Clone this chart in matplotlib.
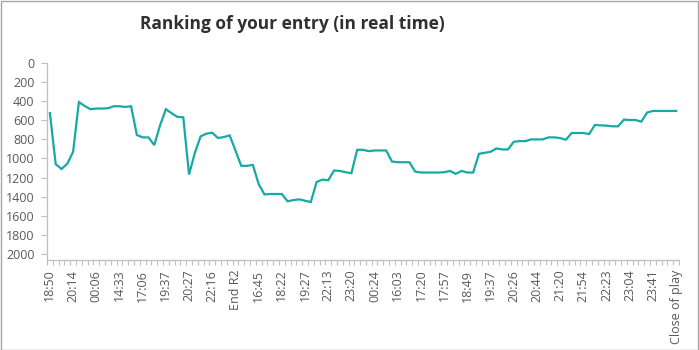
import matplotlib
matplotlib.use("Agg")
import matplotlib.pyplot as plt
from matplotlib.patches import Rectangle

plt.rcParams['font.family'] = ['Open Sans', 'DejaVu Sans']

# rank after each update (lower is better)
ranks = [
    525, 1060, 1110, 1055, 930, 410, 450, 484, 477, 477,
    474, 453, 453, 460, 453, 754, 779, 779, 860, 653,
    484, 526, 565, 568, 1168, 940, 768, 740, 730, 786,
    775, 758, 916, 1077, 1077, 1067, 1267, 1376, 1372, 1372,
    1372, 1449, 1435, 1428, 1442, 1456, 1246, 1221, 1228, 1126,
    1130, 1144, 1154, 909, 909, 923, 916, 916, 916, 1032,
    1039, 1039, 1039, 1137, 1147, 1147, 1147, 1147, 1144, 1130,
    1161, 1130, 1147, 1147, 951, 940, 930, 895, 905, 905,
    825, 818, 818, 800, 800, 800, 779, 779, 786, 803,
    733, 733, 733, 744, 649, 653, 656, 663, 663, 593,
    597, 597, 614, 519, 502, 502, 502, 502, 502,
]

# labels shown on every fourth update
tick_labels = [
    "18:50", "20:14", "00:06", "14:33", "17:06", "19:37", "20:27",
    "22:16", "End R2", "16:45", "18:22", "19:27", "22:13", "23:20",
    "00:24", "16:03", "17:20", "17:57", "18:49", "19:37", "20:26",
    "20:44", "21:20", "21:54", "22:23", "23:04", "23:41", "Close of play",
]
label_step = 4
y_ticks = list(range(0, 2001, 200))

grey = "#595959"
axis_grey = "#BFBFBF"

fig = plt.figure(figsize=(6.99, 3.5), dpi=100)
ax = fig.add_axes([47 / 699, 1 - 260 / 350, (679 - 47) / 699, (260 - 63) / 350])

x = list(range(len(ranks)))
ax.plot(x, ranks, color="#17A9A3", linewidth=1.6, solid_joinstyle="miter")

ax.set_xlim(-0.5, len(ranks) - 0.5)
ax.set_ylim(2063, 0)
ax.set_yticks(y_ticks)
ax.set_yticklabels([str(v) for v in y_ticks])

ax.set_xticks(x[::label_step])
ax.set_xticklabels(tick_labels, rotation=90)
ax.set_xticks([i - 0.5 for i in range(len(ranks) + 1)], minor=True)

ax.tick_params(axis="x", which="major", length=0, pad=7, labelsize=9, labelcolor=grey)
ax.tick_params(axis="x", which="minor", length=3.5, width=0.8, color=axis_grey)
ax.tick_params(axis="y", length=4, width=0.8, color=axis_grey, pad=5,
               labelsize=9, labelcolor=grey)

for side in ("top", "right"):
    ax.spines[side].set_visible(False)
for side in ("left", "bottom"):
    ax.spines[side].set_color(axis_grey)
    ax.spines[side].set_linewidth(0.9)

fig.text(292 / 699, 1 - 24 / 350, "Ranking of your entry (in real time)",
         ha="center", va="center", fontsize=12.5, fontweight="bold", color="#303030")

fig.patches.append(Rectangle((0.5 / 699, 0.5 / 350), 697.5 / 699, 348.5 / 350,
                             transform=fig.transFigure, fill=False,
                             edgecolor="#A6A6A6", linewidth=1.0))

fig.savefig("out.png", dpi=100)
